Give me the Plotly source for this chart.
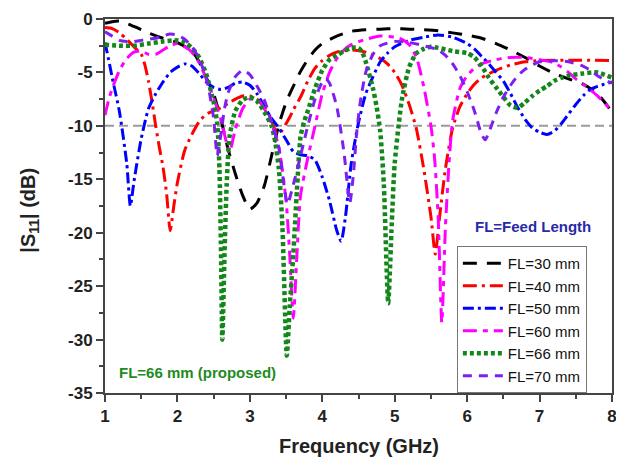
import plotly.graph_objects as go

# ---------------- data ----------------
f30 = [1.0, 1.1, 1.2, 1.4, 1.6, 1.8, 2.0, 2.2, 2.3, 2.4, 2.5, 2.6, 2.7, 2.8, 2.9, 3.0, 3.1, 3.2, 3.3, 3.4,
       3.5, 3.6, 3.7, 3.8, 3.9, 4.0, 4.2, 4.4, 4.6, 4.8, 5.0, 5.2, 5.4, 5.6, 5.8, 6.0, 6.2, 6.4, 6.6, 6.8,
       7.0, 7.2, 7.4, 7.6, 7.8, 8.0]
s30 = [-0.4, -0.25, -0.2, -0.7, -1.3, -1.8, -2.2, -3.0, -4.0, -5.5, -7.0, -9.4, -12.2, -14.5, -16.5, -17.8,
       -17.2, -15.6, -12.8, -9.9, -7.8, -6.3, -4.9, -3.8, -2.9, -2.3, -1.6, -1.15, -1.0, -0.95, -0.9, -0.95,
       -1.0, -1.1, -1.3, -1.5, -1.8, -2.3, -2.9, -3.6, -4.4, -5.1, -5.6, -6.1, -7.0, -8.7]

f40 = [1.0, 1.1, 1.2, 1.3, 1.4, 1.5, 1.55, 1.6, 1.65, 1.7, 1.75, 1.8, 1.85, 1.9, 1.95, 2.0, 2.1, 2.2, 2.3,
       2.4, 2.5, 2.6, 2.7, 2.8, 2.9, 3.0, 3.1, 3.2, 3.3, 3.38, 3.45, 3.5, 3.55, 3.6, 3.7, 3.8, 3.9, 4.0,
       4.1, 4.2, 4.4, 4.6, 4.8, 4.9, 5.0, 5.1, 5.2, 5.3, 5.4, 5.5, 5.56, 5.62, 5.7, 5.8, 5.9, 6.0, 6.1,
       6.2, 6.4, 6.6, 6.8, 7.0, 7.5, 8.0]
s40 = [-0.8, -0.9, -1.3, -1.9, -2.6, -3.3, -4.3, -5.8, -7.8, -10.0, -12.0, -13.8, -16.3, -19.8, -17.5,
       -15.3, -12.3, -10.8, -9.6, -8.9, -8.6, -8.3, -7.9, -7.5, -7.2, -7.2, -7.5, -8.1, -9.5, -10.8, -10.4,
       -9.8, -9.2, -8.5, -7.3, -5.8, -4.6, -3.9, -3.4, -3.1, -2.9, -3.1, -3.7, -4.2, -5.0, -6.2, -8.0,
       -10.3, -14.0, -18.5, -22.0, -18.5, -14.0, -10.2, -8.2, -7.0, -6.1, -5.5, -4.8, -4.3, -4.0, -3.9,
       -3.85, -3.9]

f50 = [1.0, 1.05, 1.1, 1.2, 1.3, 1.35, 1.4, 1.5, 1.6, 1.7, 1.8, 1.9, 2.0, 2.1, 2.2, 2.3, 2.4, 2.5, 2.6,
       2.7, 2.8, 2.9, 3.0, 3.1, 3.2, 3.3, 3.4, 3.5, 3.6, 3.7, 3.8, 3.9, 4.0, 4.1, 4.2, 4.26, 4.32, 4.4,
       4.5, 4.6, 4.7, 4.8, 4.9, 5.0, 5.2, 5.4, 5.6, 5.8, 6.0, 6.1, 6.2, 6.3, 6.4, 6.5, 6.6, 6.7, 6.8, 6.9,
       7.0, 7.1, 7.2, 7.3, 7.4, 7.5, 7.6, 7.7, 7.8, 8.0]
s50 = [-2.2, -3.8, -5.5, -8.7, -13.5, -17.5, -15.2, -11.2, -8.4, -7.0, -5.9, -5.0, -4.5, -4.2, -4.4,
       -5.1, -5.9, -6.4, -6.6, -6.4, -6.0, -5.9, -6.2, -7.0, -8.2, -9.3, -10.2, -11.3, -12.4, -12.7, -12.8,
       -13.2, -14.8, -17.0, -19.8, -20.8, -18.5, -13.5, -9.7, -7.0, -5.4, -4.0, -3.2, -2.6, -2.0, -1.7,
       -1.5, -1.7, -2.3, -2.8, -3.5, -4.2, -5.0, -5.8, -7.0, -8.3, -9.4, -10.2, -10.6, -10.8, -10.5, -9.8,
       -8.9, -8.0, -7.2, -6.6, -6.3, -5.9]

f60 = [1.0, 1.05, 1.1, 1.2, 1.3, 1.4, 1.5, 1.6, 1.7, 1.8, 1.9, 2.0, 2.1, 2.2, 2.3, 2.4, 2.5, 2.6, 2.7,
       2.72, 2.8, 2.9, 3.0, 3.1, 3.2, 3.3, 3.4, 3.5, 3.55, 3.6, 3.65, 3.7, 3.8, 3.9, 4.0, 4.1, 4.2, 4.3,
       4.4, 4.6, 4.8, 5.0, 5.1, 5.2, 5.3, 5.4, 5.5, 5.55, 5.6, 5.65, 5.7, 5.75, 5.8, 5.9, 6.0, 6.1, 6.2,
       6.4, 6.6, 6.8, 7.0, 7.2, 7.3, 7.4, 7.5, 7.6, 7.8, 8.0]
s60 = [-9.0, -7.6, -6.5, -4.8, -3.7, -3.1, -3.0, -3.3, -3.3, -2.9, -2.5, -2.3, -2.6, -3.1, -4.1, -5.6,
       -7.4, -9.4, -12.2, -12.5, -10.3, -8.4, -7.5, -7.5, -8.4, -9.8, -12.0, -17.0, -22.0, -28.0, -22.0,
       -16.5, -13.0, -10.0, -7.0, -5.0, -3.7, -2.9, -2.4, -1.9, -1.6, -1.7, -1.9, -2.4, -3.6, -6.3, -10.0,
       -13.0, -18.5, -28.4, -19.5, -13.5, -9.5, -6.5, -5.3, -4.6, -4.2, -3.8, -3.6, -3.6, -3.8, -4.1,
       -4.5, -5.0, -5.6, -6.1, -7.2, -8.6]

f66 = [1.0, 1.2, 1.4, 1.6, 1.8, 2.0, 2.1, 2.2, 2.3, 2.4, 2.5, 2.55, 2.58, 2.6, 2.62, 2.65, 2.68, 2.72,
       2.8, 2.9, 3.0, 3.1, 3.2, 3.3, 3.35, 3.4, 3.45, 3.51, 3.55, 3.6, 3.65, 3.7, 3.75, 3.8, 3.9, 4.0,
       4.1, 4.2, 4.3, 4.4, 4.5, 4.55, 4.6, 4.7, 4.75, 4.8, 4.85, 4.91, 4.96, 5.0, 5.1, 5.2, 5.3, 5.4,
       5.5, 5.6, 5.8, 6.0, 6.1, 6.2, 6.3, 6.4, 6.5, 6.6, 6.7, 6.8, 6.9, 7.0, 7.1, 7.2, 7.3, 7.4, 7.6,
       7.8, 8.0]
s66 = [-2.4, -2.5, -2.5, -2.3, -2.1, -2.0, -2.2, -2.7, -3.6, -5.2, -7.8, -9.8, -14.0, -21.0, -30.0,
       -22.0, -15.5, -11.0, -8.6, -7.6, -7.3, -7.7, -8.7, -10.0, -11.5, -14.0, -19.5, -31.5, -27.0, -22.0,
       -16.0, -11.0, -9.6, -8.6, -6.5, -4.8, -3.8, -3.4, -3.0, -2.7, -2.7, -3.1, -4.0, -6.5, -8.2, -10.5,
       -15.5, -26.6, -19.0, -13.5, -7.5, -4.5, -3.2, -2.8, -2.6, -2.7, -3.0, -3.2, -3.6, -4.4, -5.5, -6.4,
       -7.3, -8.1, -8.3, -7.8, -7.2, -6.7, -6.3, -5.8, -5.5, -5.3, -5.1, -5.0, -5.5]

f70 = [1.0, 1.1, 1.2, 1.3, 1.4, 1.5, 1.6, 1.7, 1.8, 1.9, 2.0, 2.1, 2.2, 2.3, 2.4, 2.45, 2.5, 2.55, 2.6,
       2.65, 2.7, 2.8, 2.9, 3.0, 3.1, 3.2, 3.3, 3.4, 3.45, 3.52, 3.6, 3.7, 3.8, 3.9, 4.0, 4.05, 4.1, 4.2,
       4.3, 4.38, 4.43, 4.47, 4.52, 4.6, 4.7, 4.8, 5.0, 5.2, 5.4, 5.6, 5.7, 5.8, 5.9, 6.0, 6.1, 6.2, 6.25,
       6.3, 6.4, 6.5, 6.6, 6.7, 6.8, 6.9, 7.0, 7.2, 7.4, 7.6, 7.7, 7.8, 7.9, 8.0]
s70 = [-1.2, -1.6, -2.0, -2.1, -2.1, -2.0, -1.9, -1.8, -1.6, -1.4, -1.5, -1.9, -2.6, -3.7, -5.6, -7.2,
       -9.3, -12.8, -10.8, -8.4, -6.9, -5.4, -4.8, -5.2, -6.3, -7.6, -9.6, -12.0, -14.5, -17.3, -15.5,
       -12.8, -10.0, -7.5, -5.9, -5.6, -6.0, -8.2, -12.5, -17.2, -14.5, -11.0, -8.0, -5.0, -3.3, -2.5,
       -2.1, -2.2, -2.5, -2.9, -3.4, -4.2, -5.3, -6.8, -8.6, -10.8, -11.3, -10.6, -8.8, -7.3, -6.2, -5.3,
       -4.7, -4.3, -4.0, -3.9, -4.0, -4.4, -4.8, -5.3, -5.7, -6.0]

series_names = ["FL=30 mm", "FL=40 mm", "FL=50 mm", "FL=60 mm", "FL=66 mm", "FL=70 mm"]
x_ticks = [1, 2, 3, 4, 5, 6, 7, 8]
y_ticks = [0, -5, -10, -15, -20, -25, -30, -35]
REF_LEVEL = -10

# ---------------- styles ----------------
FONT = "Liberation Sans, Arial, Helvetica, sans-serif"
styles = [
    dict(color="#000000", width=3, dash="14px,10px"),
    dict(color="#ff0000", width=3, dash="14px,5px,3px,5px"),
    dict(color="#0000ff", width=3, dash="11px,4px,3px,4px"),
    dict(color="#ff00ff", width=3, dash="14px,6px,5px,6px"),
    dict(color="#13871a", width=4.5, dash="4px,3px"),
    dict(color="#7d1ff0", width=3, dash="9px,7px"),
]
xs = [f30, f40, f50, f60, f66, f70]
ys = [s30, s40, s50, s60, s66, s70]

fig = go.Figure()
for name, x, y, st in zip(series_names, xs, ys, styles):
    fig.add_trace(go.Scatter(x=x, y=y, mode="lines", name=name,
                             line=dict(color=st["color"], width=st["width"], dash=st["dash"],
                                       shape="spline", smoothing=0.6)))

fig.add_shape(type="line", xref="paper", x0=0, x1=1, yref="y", y0=REF_LEVEL, y1=REF_LEVEL,
              line=dict(color="#9a9a9a", width=2, dash="9px,5px"), layer="below")

axis_common = dict(showgrid=False, zeroline=False, showline=True, linecolor="#444444", linewidth=2,
                   mirror=True, ticks="outside", ticklen=7, tickwidth=1.5, tickcolor="#444444",
                   automargin=False,
                   tickfont=dict(family=FONT, size=17, color="#222222", weight="bold"))

fig.update_xaxes(range=[1, 8], tickvals=x_ticks, ticktext=[str(v) for v in x_ticks],
                 minor=dict(ticks="outside", ticklen=4, tickwidth=1.5, tickcolor="#444444",
                            tick0=1.5, dtick=1), **axis_common)
fig.update_yaxes(range=[-35, 0], tickvals=y_ticks, ticktext=[str(v) for v in y_ticks],
                 minor=dict(ticks="outside", ticklen=4, tickwidth=1.5, tickcolor="#444444",
                            tick0=-2.5, dtick=5), **axis_common)

# The page body adds an 8 px margin, so the figure is 8 px smaller and offset accordingly.
fig.update_layout(
    width=616, height=451,
    margin=dict(l=97, r=12, t=11, b=66),
    paper_bgcolor="white", plot_bgcolor="white",
    font=dict(family=FONT, color="#222222"),
    showlegend=True,
    legend=dict(x=0.694, y=0.393, xanchor="left", yanchor="top",
                bgcolor="white", bordercolor="#777777", borderwidth=1,
                font=dict(family=FONT, size=15, color="#111111"),
                tracegroupgap=0, itemwidth=40),
    annotations=[
        dict(text="FL=Feed Length", xref="paper", yref="paper", x=0.844, y=0.444,
             xanchor="center", yanchor="middle", showarrow=False,
             font=dict(family=FONT, size=15, color="#2a2aa8", weight="bold")),
        dict(text="FL=66 mm (proposed)", xref="paper", yref="paper", x=0.182, y=0.056,
             xanchor="center", yanchor="middle", showarrow=False,
             font=dict(family=FONT, size=15, color="#1e8c1e", weight="bold")),
        dict(text="Frequency (GHz)", xref="paper", yref="paper", x=0.5, y=-0.142,
             xanchor="center", yanchor="middle", showarrow=False,
             font=dict(family=FONT, size=20, color="#222222", weight="bold")),
        dict(text="|S<sub>11</sub>| (dB)", xref="paper", yref="paper", x=-0.148, y=0.49,
             xanchor="center", yanchor="middle", showarrow=False, textangle=-90,
             font=dict(family=FONT, size=20, color="#222222", weight="bold")),
    ],
)

fig.write_html("out.html")
